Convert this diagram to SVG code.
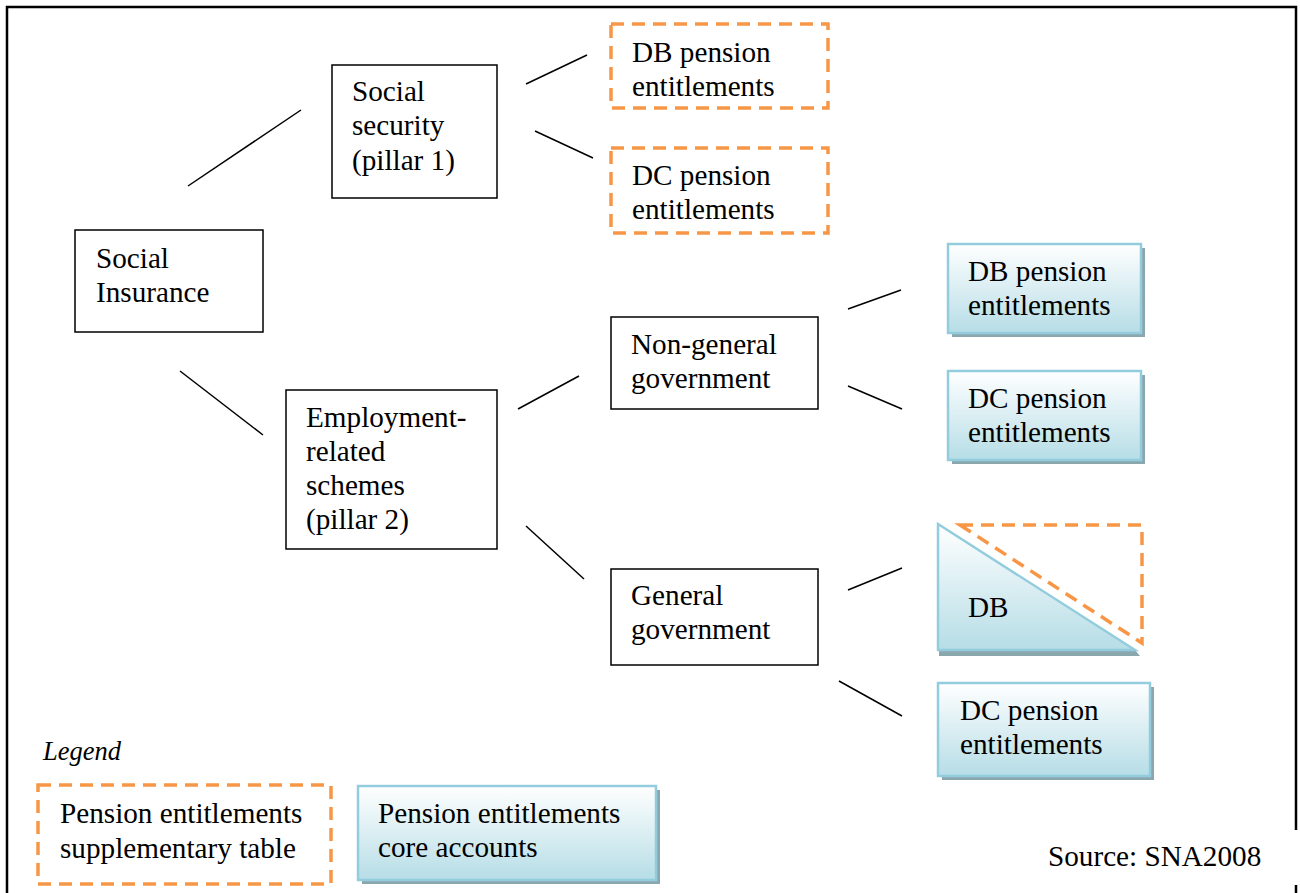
<svg xmlns="http://www.w3.org/2000/svg" width="1300" height="893" viewBox="0 0 1300 893">
<defs>
<linearGradient id="blueGrad" x1="0" y1="0" x2="0" y2="1">
<stop offset="0" stop-color="#ffffff"/>
<stop offset="1" stop-color="#b6dde6"/>
</linearGradient>
<style>
text{font-family:'Liberation Serif','DejaVu Serif',serif;font-size:29.2px;fill:#000}
.plain{fill:#fff;stroke:#000;stroke-width:1.5}
.dash{fill:none;stroke:#f79646;stroke-width:3.5;stroke-dasharray:13 8}
.blue{fill:url(#blueGrad);stroke:#93cddd;stroke-width:2.5}
.shadow{fill:#8aa7ae}
.conn line{stroke:#000;stroke-width:1.5}
.frame{stroke:#000;stroke-width:2.5;fill:none}
.leg{font-style:italic;font-size:26.5px}
</style>
</defs>
<rect width="1300" height="893" fill="#fff"/>
<path class="frame" d="M7,893 V7 H1296 V830 M1296,885 V893"/>
<g font-family="Liberation Serif, serif">

<g id="social-insurance">
<rect class="plain" x="75" y="230" width="188" height="102"/>
<text x="96" y="268">Social</text>
<text x="96" y="302">Insurance</text>
</g>
<g id="social-security">
<rect class="plain" x="332" y="65" width="165" height="133"/>
<text x="352" y="101">Social</text>
<text x="352" y="135">security</text>
<text x="352" y="170">(pillar 1)</text>
</g>
<g id="employment">
<rect class="plain" x="286" y="390" width="211" height="159"/>
<text x="306" y="427">Employment-</text>
<text x="306" y="461">related</text>
<text x="306" y="495">schemes</text>
<text x="306" y="529">(pillar 2)</text>
</g>
<g id="non-general-government">
<rect class="plain" x="611" y="317" width="207" height="92"/>
<text x="631" y="354">Non-general</text>
<text x="631" y="388">government</text>
</g>
<g id="general-government">
<rect class="plain" x="611" y="569" width="207" height="96"/>
<text x="631" y="605">General</text>
<text x="631" y="639">government</text>
</g>
<g id="ss-db">
<rect class="dash" x="611" y="24" width="217" height="84"/>
<text x="632" y="62">DB pension</text>
<text x="632" y="96">entitlements</text>
</g>
<g id="ss-dc">
<rect class="dash" x="611" y="148" width="217" height="85"/>
<text x="632" y="185">DC pension</text>
<text x="632" y="219">entitlements</text>
</g>
<g id="ngg-db">
<rect class="shadow" x="952" y="248" width="193" height="89"/>
<rect class="blue" x="948" y="244" width="193" height="89"/>
<text x="968" y="281">DB pension</text>
<text x="968" y="315">entitlements</text>
</g>
<g id="ngg-dc">
<rect class="shadow" x="952" y="375" width="193" height="89"/>
<rect class="blue" x="948" y="371" width="193" height="89"/>
<text x="968" y="408">DC pension</text>
<text x="968" y="442">entitlements</text>
</g>
<g id="gg-db">
<polygon class="shadow" points="939,650 1135,650 1140,656 939,656"/>
<polygon class="blue" points="938,524 938,650 1135,650"/>
<polygon class="dash" points="960,525 1142,525 1142,643"/>
<text x="968" y="617">DB</text>
</g>
<g id="gg-dc">
<rect class="shadow" x="942" y="687" width="212" height="93"/>
<rect class="blue" x="938" y="683" width="212" height="93"/>
<text x="960" y="720">DC pension</text>
<text x="960" y="754">entitlements</text>
</g>

<g id="connectors" class="conn">
<line x1="188" y1="186" x2="301" y2="110"/>
<line x1="180" y1="371" x2="263" y2="435"/>
<line x1="526" y1="84" x2="587" y2="55"/>
<line x1="535" y1="131" x2="593" y2="158"/>
<line x1="518" y1="409" x2="579" y2="376"/>
<line x1="526" y1="526" x2="584" y2="579"/>
<line x1="848" y1="309" x2="901" y2="290"/>
<line x1="848" y1="386" x2="902" y2="409"/>
<line x1="848" y1="590" x2="902" y2="568"/>
<line x1="839" y1="681" x2="902" y2="716"/>
</g>

<g id="legend">
<text class="leg" x="43" y="760">Legend</text>
<g id="legend-supplementary">
<rect class="dash" x="38" y="785" width="293" height="99"/>
<text x="60" y="823">Pension entitlements</text>
<text x="60" y="858">supplementary table</text>
</g>
<g id="legend-core">
<rect class="shadow" x="362" y="790" width="298" height="94"/>
<rect class="blue" x="358" y="786" width="298" height="94"/>
<text x="378" y="823">Pension entitlements</text>
<text x="378" y="857">core accounts</text>
</g>
</g>
<text id="source" x="1048" y="866">Source: SNA2008</text>
</g>
</svg>
